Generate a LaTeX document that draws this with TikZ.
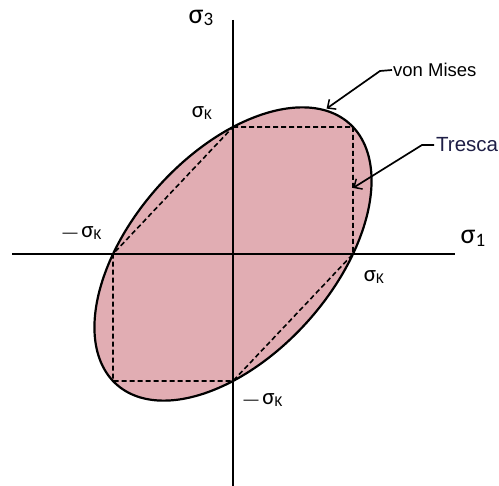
\documentclass[tikz,border=0pt]{standalone}
\usepackage{fontspec}
\setmainfont{Liberation Sans}
\newfontfamily\sigfont{Carlito}
\usetikzlibrary{arrows.meta}
\definecolor{vmfill}{RGB}{225,173,179}
\definecolor{trescatext}{RGB}{30,30,70}
\newcommand\sigK{{\sigfont σ\raisebox{-0.12em}{\fontsize{15}{15}\selectfont K}}}
\newcommand\sigAx[1]{{\sigfont σ\raisebox{-0.1em}{\fontsize{19}{19}\selectfont #1}}}
\newcommand\negdash{{\fontsize{15}{15}\selectfont —}}
\begin{document}
\begin{tikzpicture}[x=1pt,y=-1pt,
  axisline/.style={line width=1.8pt},
  outline/.style={line width=2.2pt, fill=vmfill},
  tresca/.style={line width=1.6pt, dash pattern=on 5pt off 3pt},
  leader/.style={line width=1.7pt, -{Straight Barb[length=6.5pt,width=12pt,line width=1.5pt]}},
  lbl/.style={inner sep=0pt},
  axlbl/.style={inner sep=0pt, font=\fontsize{28}{30}\selectfont},
  klbl/.style={inner sep=0pt, font=\fontsize{23}{25}\selectfont}]
\useasboundingbox (0,0) rectangle (499,486);
\begin{scope}[shift={(233,254)}, x=120pt, y=127pt]
  \draw[outline] plot[domain=0:357, samples=120, smooth cycle]
    ({cos(\x)+sin(\x)/sqrt(3)},{cos(\x)-sin(\x)/sqrt(3)});
  \coordinate (t1) at (0,1);
  \coordinate (t2) at (1,1);
  \coordinate (t3) at (1,0);
  \coordinate (t4) at (0,-1);
  \coordinate (t5) at (-1,-1);
  \coordinate (t6) at (-1,0);
  \coordinate (vmtip) at (0.78,1.145);
  \coordinate (trtip) at (1,0.52);
\end{scope}
\coordinate (xl) at (12,254);
\coordinate (xr) at (455,254);
\coordinate (yt) at (233,20);
\coordinate (yb) at (233,486);
\draw[axisline] (xl) -- (xr);
\draw[axisline] (yt) -- (yb);
\draw[tresca] (t1) -- (t2) -- (t3) -- (t4) -- (t5) -- (t6) -- cycle;
% labels
\node[axlbl] (s3) at (201,18) {\sigAx{3}};
\node[axlbl] (s1) at (473,238) {\sigAx{1}};
\node[klbl] (kt) at (202,113) {\sigK};
\node[klbl] (kl) at (82,233) {\negdash\,\sigK};
\node[klbl] (kr) at (374,277) {\sigK};
\node[klbl] (kb) at (263,400) {\negdash\,\sigK};
% leaders
\node[lbl, anchor=west, font=\fontsize{18.5}{20}\selectfont] (vm) at (393,70) {von Mises};
\node[lbl, anchor=west, text=trescatext, font=\fontsize{20.5}{22}\selectfont] (tr) at (436,145) {Tresca};
\coordinate (vmbend) at (380,71);
\coordinate (trbend) at (422,145);
\draw[leader] ([xshift=-1pt]vm.west) -- (vmbend) -- (vmtip);
\draw[leader] ([xshift=-2pt]tr.west) -- (trbend) -- (trtip);
\end{tikzpicture}
\end{document}
